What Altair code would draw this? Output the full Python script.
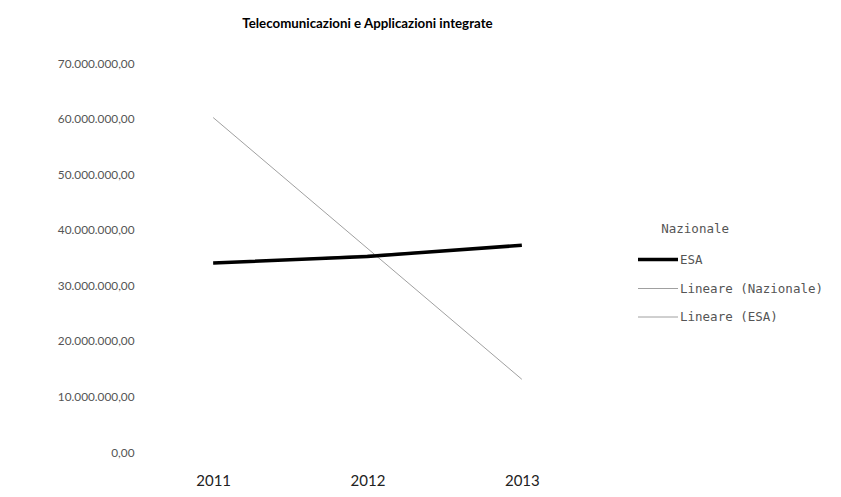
import altair as alt
import pandas as pd

years = [2011, 2012, 2013]
nazionale = [60200000, 36600000, 13100000]
esa = [34000000, 35200000, 37200000]
series_names = ["Nazionale", "ESA", "Lineare (Nazionale)", "Lineare (ESA)"]
legend_entries = ["ESA", "Lineare (Nazionale)", "Lineare (ESA)"]
series_colors = ["#ffffff", "#000000", "#a0a0a0", "#a0a0a0"]
series_widths = [1, 3.5, 1, 1]
y_ticks = [0, 10000000, 20000000, 30000000, 40000000, 50000000, 60000000, 70000000]

rows = []
for y, n, e in zip(years, nazionale, esa):
    rows.append({"year": y, "value": n, "series": "Nazionale"})
    rows.append({"year": y, "value": e, "series": "ESA"})
df = pd.DataFrame(rows)

legend = alt.Legend(
    title="Nazionale",
    values=legend_entries,
    orient="none",
    legendX=500,
    legendY=160,
    symbolType="stroke",
    symbolSize=1600,
    labelFont="DejaVu Sans Mono",
    labelFontSize=12.5,
    labelColor="#555555",
    titleFont="DejaVu Sans Mono",
    titleFontSize=12.5,
    titleFontWeight="normal",
    titleColor="#555555",
    titleAnchor="middle",
    titleAlign="right",
    titlePadding=2,
    rowPadding=1.5,
    labelOffset=0,
)

color = alt.Color("series:N", scale=alt.Scale(domain=series_names, range=series_colors), legend=legend)
width = alt.StrokeWidth(
    "series:N",
    scale=alt.Scale(type="ordinal", domain=series_names, range=series_widths),
    legend=legend,
)

x = alt.X(
    "year:Q",
    scale=alt.Scale(domain=[2010.5, 2013.5], nice=False, zero=False),
    axis=alt.Axis(
        values=years, format="d", title=None, grid=False, domain=False, ticks=False,
        labelFont="Lato", labelFontSize=15, labelColor="#222222", labelPadding=21,
    ),
)
y = alt.Y(
    "value:Q",
    scale=alt.Scale(domain=[0, 70000000], nice=False),
    axis=alt.Axis(
        values=y_ticks, format=",.2f", title=None, grid=False, domain=False, ticks=False,
        labelFont="Lato", labelFontSize=11.8, labelColor="#555555", labelPadding=2,
    ),
)

base = alt.Chart(df)

trend = base.transform_regression(
    "year", "value", groupby=["series"], extent=[2011, 2013]
).transform_calculate(
    series="'Lineare (' + datum.series + ')'"
).mark_line().encode(x=x, y=y, color=color, strokeWidth=width)

data_lines = base.transform_filter(
    "datum.series == 'ESA'"
).mark_line().encode(x=x, y=y, color=color, strokeWidth=width)

chart = alt.layer(trend, data_lines).properties(
    width=463,
    height=389,
    title=alt.TitleParams(
        "Telecomunicazioni e Applicazioni integrate",
        font="Lato", fontSize=13.3, fontWeight="bold", color="#000000",
        anchor="middle", offset=28,
    ),
    autosize=alt.AutoSizeParams(type="none"),
    padding={"left": 128, "top": 55, "right": 234, "bottom": 37},
).configure(
    locale=alt.Locale(number=alt.NumberLocale(decimal=",", thousands=".", grouping=[3], currency=["€", ""]))
).configure_view(stroke=None)

chart.save("out.html", embed_options={"renderer": "svg", "actions": False})
